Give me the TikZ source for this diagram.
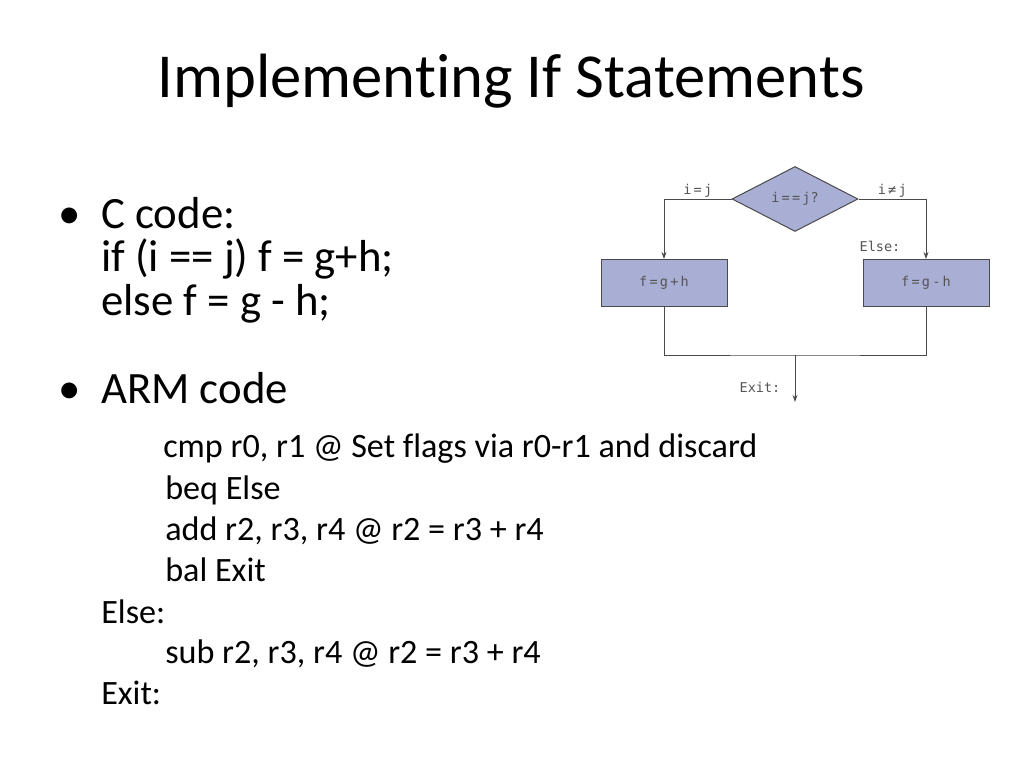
\documentclass[tikz,border=0pt]{standalone}
\usepackage{fontspec}
\setmainfont[Ligatures=NoCommon]{Carlito}
\newfontfamily\chartfont{DejaVu Sans Mono}
\usetikzlibrary{arrows.meta,shapes.geometric}
\definecolor{boxfill}{HTML}{A9AED4}
\definecolor{chartline}{HTML}{4A4A4A}
\definecolor{charttext}{HTML}{555555}

\begin{document}
\begin{tikzpicture}[x=0.703125pt, y=-0.703125pt,
    slidetext/.style={inner sep=0pt, anchor=base west, font=\fontsize{31.5}{34}\selectfont},
    codetext/.style={inner sep=0pt, anchor=base west, font=\fontsize{24}{26}\selectfont},
    chartbox/.style={draw=chartline, fill=boxfill, line width=0.7pt, inner sep=0pt,
      minimum width=88.6pt, minimum height=33pt, text=charttext, font=\chartfont\fontsize{9.5}{10}\selectfont},
    chartlabel/.style={inner sep=1pt, text=charttext, font=\chartfont\fontsize{9.5}{10}\selectfont},
    flow/.style={draw=chartline, line width=0.7pt},
    flowarrow/.style={flow, -{Stealth[length=5pt,width=3.5pt]}}]
 	\useasboundingbox (0,0) rectangle (1024,768);
 	% Title
 	\node[inner sep=0pt, anchor=base, font=\fontsize{44}{48}\selectfont] (title) at (511,98) {Implementing If Statements};
 	% Bullets
 	\node[slidetext] (b1) at (58,229) {•};
 	\node[slidetext] (ccode) at (101,229) {C code:};
 	\node[slidetext] (cif) at (101,272) {if (i == j) f = g+h;};
 	\node[slidetext] (celse) at (101,316) {else f = g - h;};
 	\node[slidetext] (b2) at (58,403) {•};
 	\node[slidetext] (armcode) at (101,403) {ARM code};
 	% ARM listing
 	\node[codetext] (l1) at (163,457) {cmp r0, r1 @ Set flags via r0-r1 and discard};
 	\node[codetext] (l2) at (165,499) {beq Else};
 	\node[codetext] (l3) at (165,540) {add r2, r3, r4 @ r2 = r3 + r4};
 	\node[codetext] (l4) at (165,581) {bal Exit};
 	\node[codetext] (l5) at (101,623) {Else:};
 	\node[codetext] (l6) at (165,663) {sub r2, r3, r4 @ r2 = r3 + r4};
 	\node[codetext] (l7) at (101,704) {Exit:};
 	% Flow chart
 	\node[chartbox, diamond, minimum width=88.6pt, minimum height=45.7pt] (test) at (795,199) {i\,=\,=\,j?};
 	\node[chartbox] (fadd) at (664,283) {f\,=\,g\,+\,h};
 	\node[chartbox] (fsub) at (926,283) {f\,=\,g\,-\,h};
 	\coordinate (merge) at (795,355);
 	\coordinate (exit) at (795,402);
 	\node[chartlabel, anchor=base east] (elselbl) at (902,252) {Else:};
 	\node[chartlabel, anchor=base east] (exitlbl) at (782,392) {Exit:};
 	% Edges
 	\draw[flowarrow] (test.west) -| node[chartlabel, pos=0.25, above] (eq) {i\,=\,j} (fadd.north);
 	\draw[flowarrow] (test.east) -| node[chartlabel, pos=0.25, above] (neq) {i\,≠\,j} (fsub.north);
 	\draw[flow] (fadd.south) |- (merge) -| (fsub.south);
 	\draw[flowarrow] (merge) -- (exit);
\end{tikzpicture}
\end{document}
